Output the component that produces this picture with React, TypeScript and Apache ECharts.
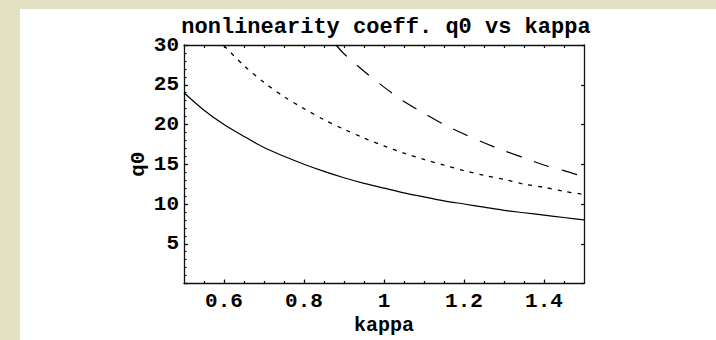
import React, { useEffect, useRef } from "react";
import * as echarts from "echarts";

const TITLE = "nonlinearity coeff. q0 vs kappa";
const X_NAME = "kappa";
const Y_NAME = "q0";

const xMajorTicks = [0.6, 0.8, 1.0, 1.2, 1.4];
const xMinorTicks = [0.55, 0.65, 0.7, 0.75, 0.85, 0.9, 0.95, 1.05, 1.1, 1.15, 1.25, 1.3, 1.35, 1.45];
const xAllTicks = [0.55, 0.6, 0.65, 0.7, 0.75, 0.8, 0.85, 0.9, 0.95, 1.0, 1.05, 1.1, 1.15, 1.2, 1.25, 1.3, 1.35, 1.4, 1.45];

const kappaSolid = [0.5, 0.55, 0.6, 0.65, 0.7, 0.75, 0.8, 0.85, 0.9, 0.95, 1.0, 1.05, 1.1, 1.15, 1.2, 1.25, 1.3, 1.35, 1.4, 1.45, 1.5];
const qSolid = [24.0, 21.8, 20.0, 18.5, 17.1, 16.0, 15.0, 14.1, 13.3, 12.6, 12.0, 11.4, 10.9, 10.4, 10.0, 9.6, 9.2, 8.9, 8.6, 8.3, 8.0];

const kappaDotted = [0.6, 0.65, 0.7, 0.75, 0.8, 0.85, 0.9, 0.95, 1.0, 1.05, 1.1, 1.15, 1.2, 1.25, 1.3, 1.35, 1.4, 1.45, 1.5];
const qDotted = [29.9, 27.4, 25.3, 23.5, 22.0, 20.6, 19.4, 18.3, 17.3, 16.4, 15.6, 14.9, 14.2, 13.6, 13.1, 12.5, 12.1, 11.6, 11.2];

const kappaDashed = [0.88, 0.9, 0.95, 1.0, 1.05, 1.1, 1.15, 1.2, 1.25, 1.3, 1.35, 1.4, 1.45, 1.5];
const qDashed = [30.0, 28.9, 26.7, 24.7, 22.9, 21.4, 20.0, 18.8, 17.7, 16.7, 15.8, 14.9, 14.2, 13.4];

const zip = (xs: number[], ys: number[]) => xs.map((x, i) => [x, ys[i]]);

const FONT = "Liberation Mono";

export default function App() {
  const ref = useRef<HTMLDivElement>(null);
  useEffect(() => {
    document.body.style.margin = "0";
    const chart = echarts.init(ref.current!, null, { renderer: "svg" });
    const lineCol = "#111";
    const labelStyle = { color: "#000", fontFamily: FONT, fontWeight: "bold" as const, fontSize: 21 };
    const common = { min: 0.5, max: 1.5, type: "value" as const, splitLine: { show: false } };
    chart.setOption({
      animation: false,
      backgroundColor: "#e3e1c3",
      graphic: [
        { type: "rect", shape: { x: 20, y: 9, width: 700, height: 335 }, style: { fill: "#ffffff" }, z: -10 },
      ],
      title: {
        text: TITLE,
        left: 386,
        top: 20,
        textAlign: "center",
        textStyle: { ...labelStyle, fontSize: 22, lineHeight: 14 },
        padding: 0,
      },
      grid: { left: 184, top: 45, width: 400, height: 248, containLabel: false },
      xAxis: [
        {
          ...common,
          position: "bottom",
          axisLine: { show: true, lineStyle: { color: lineCol, width: 1.3 } },
          axisTick: { show: true, inside: true, length: 4, customValues: xMajorTicks, lineStyle: { color: lineCol, width: 1.3 } },
          axisLabel: { ...labelStyle, margin: 11, lineHeight: 14, customValues: xMajorTicks, formatter: (v: number) => String(Math.round(v * 10) / 10) },
          name: X_NAME,
          nameLocation: "middle",
          nameGap: 33.5,
          nameMoveOverlap: false,
          nameTextStyle: { ...labelStyle, fontSize: 20, lineHeight: 16 },
        },
        {
          ...common,
          position: "bottom",
          axisLine: { show: false },
          axisTick: { show: true, inside: true, length: 2.5, customValues: xMinorTicks, lineStyle: { color: lineCol, width: 1.2 } },
          axisLabel: { show: false },
        },
        {
          ...common,
          position: "top",
          axisLine: { show: true, lineStyle: { color: lineCol, width: 1.3 } },
          axisTick: { show: true, inside: true, length: 3, customValues: xAllTicks, lineStyle: { color: lineCol, width: 1.2 } },
          axisLabel: { show: false },
        },
      ],
      yAxis: [
        {
          type: "value",
          min: 0,
          max: 30,
          interval: 5,
          position: "left",
          splitLine: { show: false },
          axisLine: { show: true, lineStyle: { color: lineCol, width: 1.3 } },
          axisTick: { show: true, inside: true, length: 4, lineStyle: { color: lineCol, width: 1.3 } },
          minorTick: { show: true, splitNumber: 5, length: 2.5, lineStyle: { color: lineCol, width: 1.2 } },
          axisLabel: { ...labelStyle, margin: 5, showMinLabel: false, lineHeight: 14 },
          name: Y_NAME,
          nameLocation: "middle",
          nameGap: 35,
          nameRotate: 90,
          nameMoveOverlap: false,
          nameTextStyle: { ...labelStyle },
        },
        {
          type: "value",
          min: 0,
          max: 30,
          interval: 5,
          position: "right",
          splitLine: { show: false },
          axisLine: { show: true, lineStyle: { color: lineCol, width: 1.3 } },
          axisTick: { show: true, inside: true, length: 3, lineStyle: { color: lineCol, width: 1.2 } },
          axisLabel: { show: false },
        },
      ],
      series: [
        {
          type: "line",
          data: zip(kappaSolid, qSolid),
          showSymbol: false,
          smooth: 0.3,
          clip: true,
          lineStyle: { color: "#000", width: 1.2, type: "solid" },
        },
        {
          type: "line",
          data: zip(kappaDotted, qDotted),
          showSymbol: false,
          smooth: 0.3,
          clip: true,
          lineStyle: { color: "#000", width: 1.3, type: [4, 6] },
        },
        {
          type: "line",
          data: zip(kappaDashed, qDashed),
          showSymbol: false,
          smooth: 0.3,
          clip: true,
          lineStyle: { color: "#000", width: 1.2, type: [16, 13] },
        },
      ],
    });
    return () => chart.dispose();
  }, []);
  return <div ref={ref} style={{ width: 716, height: 340 }} />;
}
